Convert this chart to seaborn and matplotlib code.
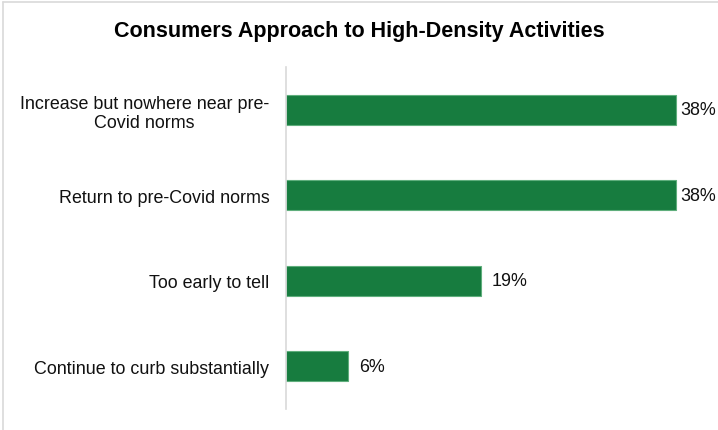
import matplotlib
matplotlib.use("Agg")
import matplotlib.pyplot as plt
import seaborn as sns
import pandas as pd
from matplotlib.lines import Line2D

# data
categories = [
    "Increase but nowhere near pre-\nCovid norms",
    "Return to pre-Covid norms",
    "Too early to tell",
    "Continue to curb substantially",
]
shares = [38, 38, 19, 6]
labels = ["38%", "38%", "19%", "6%"]

df = pd.DataFrame({"category": categories, "share": shares})

sns.set_style("white")
plt.rcParams["font.family"] = ["Liberation Sans", "DejaVu Sans"]

fig = plt.figure(figsize=(7.18, 4.31), dpi=100)
W, H = 718, 431
ax = fig.add_axes([286 / W, 21 / H, 410.5 / W, 342 / H])

sns.barplot(data=df, x="share", y="category", orient="h", color="#177c3f",
            saturation=1, width=0.35, edgecolor="#5fae7c", linewidth=0.8, ax=ax)

ax.set_xlim(0, 40)
ax.set_ylim(3.5, -0.5)
ax.set_xlabel("")
ax.set_ylabel("")
ax.set_xticks([])
for s in ["top", "right", "bottom"]:
    ax.spines[s].set_visible(False)
ax.spines["left"].set_color("#d9d9d9")
ax.spines["left"].set_linewidth(1.2)
ax.tick_params(axis="y", length=0, pad=12, labelsize=12.9, labelcolor="#111111")
for t in ax.get_yticklabels():
    t.set_multialignment("center")
    t.set_linespacing(1.15)

# value labels; the longest ones get squeezed against the edge
max_share = max(shares)
for i, (v, lab) in enumerate(zip(shares, labels)):
    off = 3 if v == max_share else 8
    ax.annotate(lab, (v, i), xytext=(off, 0), textcoords="offset points",
                va="center", ha="left", fontsize=12.9, color="#111111")

fig.text(0.5, 1 - 31 / H, "Consumers Approach to High-Density Activities",
         ha="center", va="center", fontsize=15.5, fontweight="bold", color="black")

# outer frame (left and top edges)
fig.add_artist(Line2D([2.5 / W, 2.5 / W], [0, 1 - 2.5 / H], transform=fig.transFigure,
                      color="#d9d9d9", lw=1.2))
fig.add_artist(Line2D([2.5 / W, 1], [1 - 2.5 / H, 1 - 2.5 / H], transform=fig.transFigure,
                      color="#d9d9d9", lw=1.2))

fig.savefig("out.png", dpi=100)
